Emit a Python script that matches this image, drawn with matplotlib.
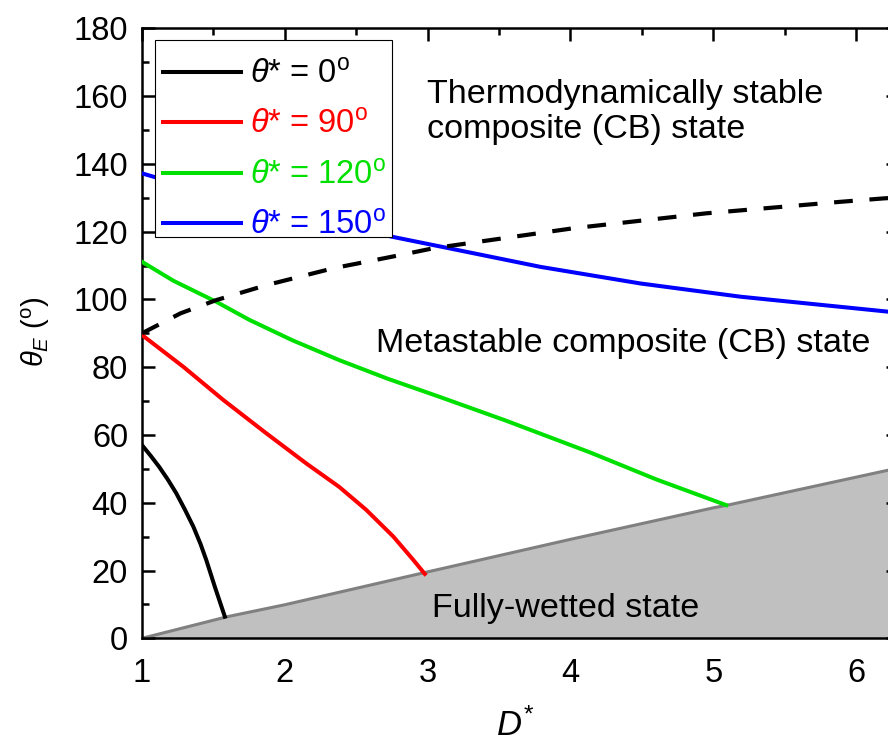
import matplotlib
matplotlib.use("Agg")
import matplotlib.pyplot as plt
from matplotlib.ticker import MultipleLocator
from matplotlib.patches import Rectangle

plt.rcParams['font.family'] = ['Liberation Sans', 'DejaVu Sans']
plt.rcParams['mathtext.fontset'] = 'custom'
plt.rcParams['mathtext.rm'] = 'Liberation Sans'
plt.rcParams['mathtext.it'] = 'Liberation Sans:italic'
plt.rcParams['mathtext.bf'] = 'Liberation Sans:bold'

# ---- data ----
x_t0 = [1.0, 1.06, 1.12, 1.18, 1.24, 1.30, 1.36, 1.41, 1.45, 1.51, 1.58]
y_t0 = [57.0, 53.9, 50.6, 46.9, 42.8, 38.0, 32.9, 27.8, 23.1, 15.2, 6.4]

x_t90 = [1.0, 1.29, 1.57, 1.87, 2.15, 2.38, 2.57, 2.76, 2.90, 2.98]
y_t90 = [89.5, 80.1, 70.3, 60.5, 51.6, 44.7, 37.9, 30.0, 23.1, 19.0]

x_t120 = [1.0, 1.22, 1.52, 1.75, 2.05, 2.38, 2.72, 3.08, 3.55, 4.14, 4.60, 5.09]
y_t120 = [111.1, 105.5, 99.3, 94.0, 88.0, 82.1, 76.6, 71.3, 64.2, 54.8, 46.9, 39.3]

x_t150 = [1.0, 1.5, 2.0, 2.5, 2.75, 3.09, 3.79, 4.49, 5.19, 6.22, 6.3]
y_t150 = [137.2, 131.0, 125.5, 121.0, 118.5, 115.6, 109.6, 104.7, 100.8, 96.4, 96.1]

x_dash = [1.0, 1.27, 1.52, 1.87, 2.34, 2.81, 3.04, 4.02, 4.95, 5.89, 6.19, 6.3]
y_dash = [90.0, 95.9, 99.8, 104.2, 109.2, 113.1, 115.1, 121.0, 125.4, 128.8, 129.8, 130.1]

x_wet = [1.0, 1.6, 2.0, 3.0, 4.0, 5.0, 5.1, 6.3]
y_wet = [0.0, 6.4, 9.9, 19.6, 29.2, 38.5, 39.3, 50.3]

labels = [r'$\theta$* = 0$^{\rm o}$', r'$\theta$* = 90$^{\rm o}$',
          r'$\theta$* = 120$^{\rm o}$', r'$\theta$* = 150$^{\rm o}$']
colors = ['#000000', '#ff0000', '#00e000', '#0000ff']

W, H = 888, 742
L, R, B, T = 142, 899, 638.3, 28.3
fig = plt.figure(figsize=(W / 100, H / 100), dpi=100)
ax = fig.add_axes([L / W, 1 - B / H, (R - L) / W, (B - T) / H])

ax.fill_between(x_wet, 0, y_wet, color='#c0c0c0', lw=0, zorder=1)
ax.plot(x_wet, y_wet, color='#808080', lw=2.2, zorder=2)

series = [(x_t0, y_t0), (x_t90, y_t90), (x_t120, y_t120), (x_t150, y_t150)]
handles = []
for (xs, ys), c, lab in zip(series, colors, labels):
    h, = ax.plot(xs, ys, color=c, lw=2.9, label=lab, zorder=3,
                 solid_joinstyle='round')
    handles.append(h)

ax.plot(x_dash, y_dash, color='black', lw=3.0, dashes=(4.5, 4.0), zorder=3)

ax.set_xlim(1, 6.3)
ax.set_ylim(0, 180)
ax.xaxis.set_major_locator(MultipleLocator(1))
ax.xaxis.set_minor_locator(MultipleLocator(0.5))
ax.yaxis.set_major_locator(MultipleLocator(20))
ax.yaxis.set_minor_locator(MultipleLocator(10))
ax.tick_params(which='both', direction='in', top=True, right=True, bottom=False,
               labelsize=23.5, width=1.8)
ax.tick_params(axis='x', pad=14)
ax.tick_params(axis='y', pad=10)
ax.tick_params(which='major', length=9.5)
ax.tick_params(which='minor', length=5)
for s in ax.spines.values():
    s.set_linewidth(1.8)

fig.text(515 / W, 1 - 726 / H, r'$D^{*}$', fontsize=25, ha='center', va='center')
fig.text(36 / W, 1 - 332 / H, r'$\theta_E$ ($^{\rm o}$)', fontsize=21, rotation=90,
         ha='center', va='center')

# legend box (frame drawn separately so the rows can sit as in the reference)
pw, ph = R - L, B - T
ax.add_patch(Rectangle(((155 - L) / pw, 1 - (237 - T) / ph), (392 - 155) / pw, (237 - 40) / ph,
                       transform=ax.transAxes, facecolor='white', edgecolor='black',
                       lw=0.8, zorder=4.9))
leg = ax.legend(handles=handles, loc='upper left',
                bbox_to_anchor=((155 - L) / pw, 1 - (51 - T) / ph),
                fontsize=23.5, frameon=False, handlelength=2.4, handletextpad=0.27,
                labelspacing=0.6, borderpad=0.25, borderaxespad=0)
for t, c in zip(leg.get_texts(), colors):
    t.set_color(c)
leg.set_zorder(5)

ax.text(2.996, 147.6, 'Thermodynamically stable\ncomposite (CB) state', fontsize=24.6,
        ha='left', va='baseline', linespacing=1.17)
ax.text(2.64, 84.5, 'Metastable composite (CB) state', fontsize=24.6, ha='left', va='baseline')
ax.text(3.03, 6.4, 'Fully-wetted state', fontsize=24.6, ha='left', va='baseline')

fig.savefig('out.png', dpi=100)
